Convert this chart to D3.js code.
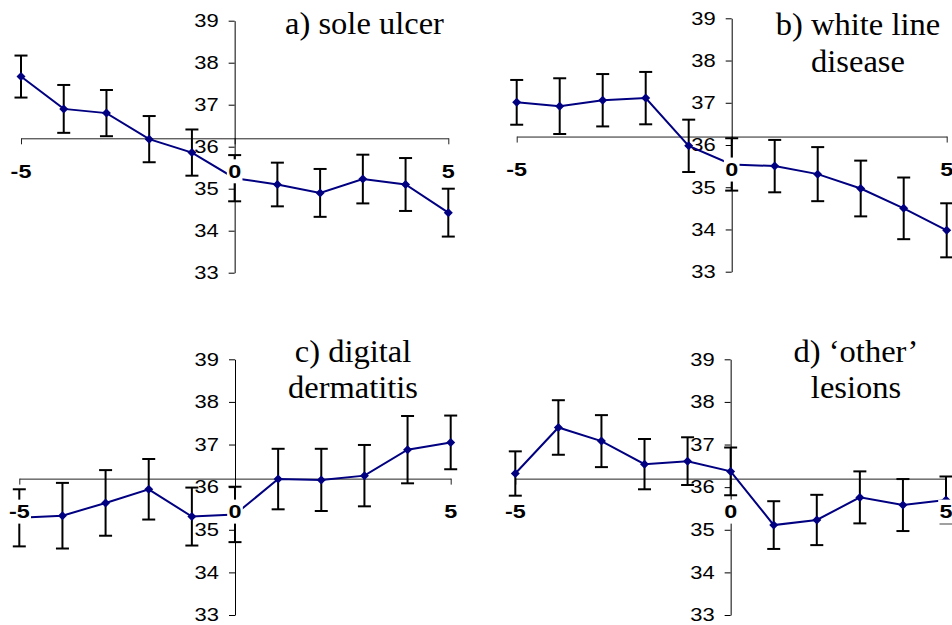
<!DOCTYPE html>
<html>
<head>
<meta charset="utf-8">
<script src="https://cdn.jsdelivr.net/npm/d3@7"></script>
<style>
  html, body { margin: 0; padding: 0; background: #fff; }
  svg { display: block; }
</style>
</head>
<body>
<svg id="chart" width="952" height="625"></svg>
<script>
// days relative to lesion diagnosis
const days = [-5, -4, -3, -2, -1, 0, 1, 2, 3, 4, 5]
const xTicks = [-5, 0, 5]
const yTicks = [33, 34, 35, 36, 37, 38, 39]

// mean temperature and error bar half-width
const soleMean = [37.67, 36.90, 36.80, 36.18, 35.86, 35.25, 35.10, 34.90, 35.23, 35.10, 34.43]
const soleErr = [0.50, 0.57, 0.55, 0.55, 0.55, 0.55, 0.52, 0.57, 0.58, 0.63, 0.57]

const whiteMean = [37.01, 36.92, 37.06, 37.11, 35.98, 35.54, 35.50, 35.31, 34.97, 34.50, 33.98]
const whiteErr = [0.53, 0.66, 0.62, 0.62, 0.62, 0.62, 0.62, 0.64, 0.66, 0.73, 0.64]

const digitalMean = [35.28, 35.33, 35.63, 35.95, 35.31, 35.36, 36.19, 36.17, 36.27, 36.88, 37.05]
const digitalErr = [0.67, 0.77, 0.77, 0.71, 0.68, 0.65, 0.71, 0.73, 0.72, 0.79, 0.63]

const otherMean = [36.32, 37.40, 37.08, 36.54, 36.61, 36.37, 35.11, 35.23, 35.76, 35.58, 35.70]
const otherErr = [0.52, 0.64, 0.61, 0.59, 0.56, 0.56, 0.56, 0.59, 0.61, 0.61, 0.55]

const titles = [
    ["a) sole ulcer"],
    ["b) white line", "disease"],
    ["c) digital", "dermatitis"],
    ["d) \u2018other\u2019", "lesions"]
]

const navy = "#000080"
const sans = "'Liberation Sans', Arial, sans-serif"
const serif = "'Liberation Serif', 'Times New Roman', serif"

// the numbers in the original are drawn a bit wide
const yStretch = 1.22
const xStretch = 1.3

// where each small chart sits on the page
const panels = [
    { mean: soleMean, err: soleErr, title: titles[0], left: 21, right: 448.3, top: 20.7, bottom: 272.7, tx: 364.5, ty: 34.3 },
    { mean: whiteMean, err: whiteErr, title: titles[1], left: 516.7, right: 946.7, top: 18.3, bottom: 271.7, tx: 858, ty: 35 },
    { mean: digitalMean, err: digitalErr, title: titles[2], left: 19.3, right: 450.7, top: 359.3, bottom: 615, tx: 353, ty: 361.7 },
    { mean: otherMean, err: otherErr, title: titles[3], left: 515.3, right: 946, top: 359.3, bottom: 615, tx: 856, ty: 361.7 }
]

const crossAt = 36.2   // the horizontal axis crosses here

const svg = d3.select("#chart")

svg.append("rect")
    .attr("width", 952)
    .attr("height", 625)
    .attr("fill", "#fff")

panels.forEach(p => {
    const x = d3.scaleLinear().domain([-5, 5]).range([p.left, p.right])
    const y = d3.scaleLinear().domain([33, 39]).range([p.bottom, p.top])
    const g = svg.append("g")

    // horizontal axis
    const xAxis = d3.axisBottom(x)
        .tickValues(xTicks)
        .tickSize(6)
        .tickSizeOuter(0)
        .tickFormat("")
    g.append("g")
        .attr("transform", `translate(0, ${y(crossAt)})`)
        .call(xAxis)
        .call(a => a.selectAll("path, line").attr("stroke", "#222").attr("stroke-width", 1))

    // vertical axis
    const yAxis = d3.axisLeft(y)
        .tickValues(yTicks)
        .tickSize(6)
        .tickSizeOuter(0)
        .tickPadding(10)
        .tickFormat(d3.format("d"))
    g.append("g")
        .attr("transform", `translate(${x(0)}, 0)`)
        .call(yAxis)
        .call(a => a.selectAll("path, line").attr("stroke", "#000").attr("stroke-width", 1))
        .call(a => a.selectAll("text")
            .attr("fill", "#000")
            .attr("x", -16 / yStretch)
            .attr("transform", `scale(${yStretch},1)`)
            .style("font-family", sans)
            .style("font-size", "18px"))

    // error bars
    const bars = g.append("g")
        .attr("stroke", "#000")
        .attr("stroke-width", 2)
    days.forEach((d, i) => {
        const hi = y(p.mean[i] + p.err[i]), lo = y(p.mean[i] - p.err[i])
        bars.append("line").attr("x1", x(d)).attr("x2", x(d)).attr("y1", hi).attr("y2", lo)
        bars.append("line").attr("x1", x(d) - 6.5).attr("x2", x(d) + 6.5).attr("y1", hi).attr("y2", hi)
        bars.append("line").attr("x1", x(d) - 6.5).attr("x2", x(d) + 6.5).attr("y1", lo).attr("y2", lo)
    })

    // mean line
    const line = d3.line()
        .x((d, i) => x(d))
        .y((d, i) => y(p.mean[i]))
    g.append("path")
        .datum(days)
        .attr("d", line)
        .attr("fill", "none")
        .attr("stroke", navy)
        .attr("stroke-width", 2)

    // diamond markers
    g.append("g")
        .selectAll("path")
        .data(days)
        .join("path")
        .attr("d", (d, i) => {
            const cx = x(d), cy = y(p.mean[i]), r = 4.5
            return `M${cx},${cy - r}L${cx + r},${cy}L${cx},${cy + r}L${cx - r},${cy}Z`
        })
        .attr("fill", navy)

    // x labels sit on a white box, which hides what lies under them
    const labels = g.append("g")
    xTicks.forEach(t => {
        const lx = x(t), ly = y(crossAt) + 33
        const cell = labels.append("g")
            .attr("transform", `translate(${lx},${ly}) scale(${xStretch},1)`)
        const txt = cell.append("text")
            .attr("dy", "0.36em")
            .attr("text-anchor", "middle")
            .style("font-family", sans)
            .style("font-size", "18px")
            .style("font-weight", "bold")
            .text(t)
        const w = txt.node().getComputedTextLength()
        cell.insert("rect", "text")
            .attr("x", -w / 2 - 1)
            .attr("y", -12)
            .attr("width", w + 2)
            .attr("height", 24)
            .attr("fill", "#fff")
    })

    // panel title
    g.append("text")
        .attr("x", p.tx)
        .attr("y", p.ty)
        .attr("text-anchor", "middle")
        .style("font-family", serif)
        .style("font-size", "32.5px")
        .selectAll("tspan")
        .data(p.title)
        .join("tspan")
        .attr("x", p.tx)
        .attr("dy", (d, i) => i === 0 ? 0 : 36.7)
        .text(d => d)
})
</script>
</body>
</html>
